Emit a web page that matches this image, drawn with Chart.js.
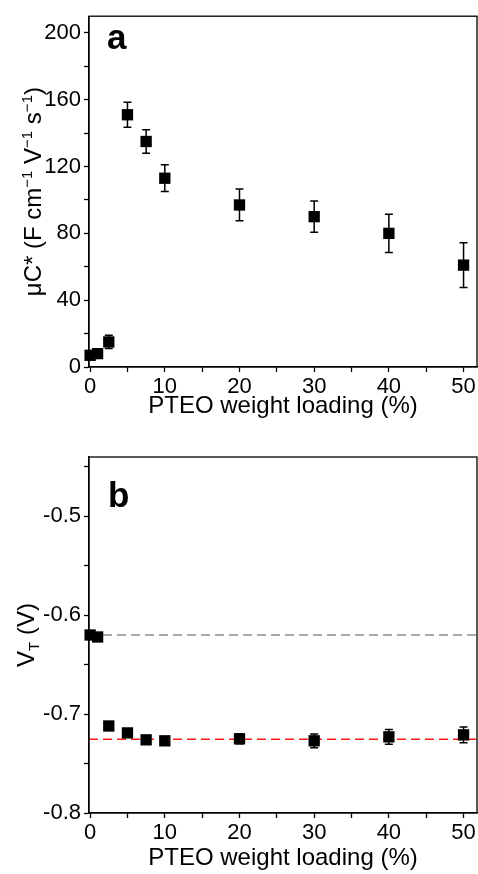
<!DOCTYPE html>
<html>
<head>
<meta charset="utf-8">
<script src="https://cdn.jsdelivr.net/npm/chart.js@4.4.1/dist/chart.umd.min.js"></script>
<style>
html, body { margin: 0; padding: 0; background: #fff; }
#wrap { position: relative; width: 478px; height: 874px; }
#wrap canvas { position: absolute; left: 0; }
</style>
</head>
<body>
<div id="wrap">
  <canvas id="chartA" width="478" height="437" style="top:0"></canvas>
  <canvas id="chartB" width="478" height="437" style="top:437px"></canvas>
</div>
<script>
// PTEO loading (%)
const loading = [0, 1, 2.5, 5, 7.5, 10, 20, 30, 40, 50];

// panel a: mobility-capacitance product
const muC = [7, 8, 15, 151, 135, 113, 97, 90, 80, 61];
const muCErr = [1.5, 1.5, 4, 7.5, 7, 8, 9.5, 9.3, 11.4, 13.4];

// panel b: threshold voltage
const vt = [-0.620, -0.622, -0.712, -0.719, -0.726, -0.727, -0.725, -0.727, -0.723, -0.721];
const vtErr = [0.002, 0.002, 0.004, 0.004, 0.003, 0.003, 0.005, 0.007, 0.0075, 0.008];

// dashed reference levels in panel b
const vtRefGray = -0.620;
const vtRefRed = -0.7255;

const xRange = [-0.15, 51.8];
const yRangeA = [0, 210];
const yRangeB = [-0.8, -0.44];

const FONT = '"Liberation Sans", Arial, Helvetica, sans-serif';

// error bars drawn under the markers
const errorBars = {
    id: 'errorBars',
    beforeDatasetsDraw(chart) {
        const ctx = chart.ctx;
        const yScale = chart.scales.y;
        chart.data.datasets.forEach((ds, i) => {
            if (!ds.errors) return;
            const meta = chart.getDatasetMeta(i);
            meta.data.forEach((pt, j) => {
                const v = ds.data[j].y;
                const e = ds.errors[j];
                const top = yScale.getPixelForValue(v + e);
                const bot = yScale.getPixelForValue(v - e);
                ctx.save();
                ctx.strokeStyle = '#000';
                ctx.lineWidth = 1.5;
                ctx.beginPath();
                ctx.moveTo(pt.x, top); ctx.lineTo(pt.x, bot);
                ctx.moveTo(pt.x - 4, top); ctx.lineTo(pt.x + 4, top);
                ctx.moveTo(pt.x - 4, bot); ctx.lineTo(pt.x + 4, bot);
                ctx.stroke();
                ctx.restore();
            });
        });
    }
};

// box frame, panel letter and rich y title
const decorations = {
    id: 'decorations',
    afterDraw(chart, args, opts) {
        const ctx = chart.ctx;
        const a = chart.chartArea;
        ctx.save();
        ctx.strokeStyle = '#000';
        ctx.lineWidth = 1.3;
        ctx.strokeRect(a.left, a.top, a.right - a.left, a.bottom - a.top);

        ctx.fillStyle = '#000';
        ctx.font = 'bold 35px ' + FONT;
        ctx.textBaseline = 'alphabetic';
        ctx.fillText(opts.letter, opts.letterX, opts.letterY);

        // rotated title made of runs (normal / sup / sub)
        const runs = opts.title;
        let total = 0;
        runs.forEach(r => {
            ctx.font = r.size + 'px ' + FONT;
            r.w = ctx.measureText(r.text).width;
            total += r.w;
        });
        ctx.translate(opts.titleX, (a.top + a.bottom) / 2);
        ctx.rotate(-Math.PI / 2);
        let x = -total / 2;
        runs.forEach(r => {
            ctx.font = r.size + 'px ' + FONT;
            ctx.fillText(r.text, x, r.dy || 0);
            x += r.w;
        });
        ctx.restore();
    }
};

function xAxis(height) {
    return {
        type: 'linear',
        min: xRange[0],
        max: xRange[1],
        afterFit: s => { s.height = height; },
        ticks: {
            stepSize: 5,
            includeBounds: false,
            autoSkip: false,
            maxRotation: 0,
            padding: 2,
            color: '#000',
            font: { family: FONT, size: 22 },
            callback: v => (v % 10 === 0 ? v : '')
        },
        grid: { drawOnChartArea: false, tickLength: 5, color: '#000', tickWidth: 1.3 },
        border: { color: '#000', width: 1.3 },
        title: {
            display: true,
            text: 'PTEO weight loading (%)',
            color: '#000',
            font: { family: FONT, size: 24 },
            padding: { top: 0, bottom: 0 }
        }
    };
}

function yTicks(step, labelFn) {
    return {
        stepSize: step,
        includeBounds: false,
        autoSkip: false,
        padding: 3,
        color: '#000',
        font: { family: FONT, size: 22 },
        callback: labelFn
    };
}

const yGrid = { drawOnChartArea: false, tickLength: 5, color: '#000', tickWidth: 1.3 };

const ptsA = loading.map((x, i) => ({ x: x, y: muC[i] }));
const ptsB = loading.map((x, i) => ({ x: x, y: vt[i] }));

new Chart(document.getElementById('chartA'), {
    type: 'scatter',
    data: {
        datasets: [{
            data: ptsA,
            errors: muCErr,
            pointStyle: 'rect',
            pointRadius: 8,
            backgroundColor: '#000',
            borderColor: '#000',
            borderWidth: 0,
            clip: false
        }]
    },
    options: {
        responsive: false,
        animation: false,
        devicePixelRatio: 1,
        layout: { autoPadding: false, padding: { top: 11, right: 1, bottom: 16, left: 0 } },
        plugins: {
            legend: { display: false },
            tooltip: { enabled: false },
            decorations: {
                letter: 'a', letterX: 107, letterY: 49, titleX: 41,
                title: [
                    { text: 'μC* (F cm', size: 24 },
                    { text: '−1', size: 15, dy: -9 },
                    { text: ' V', size: 24 },
                    { text: '−1', size: 15, dy: -9 },
                    { text: ' s', size: 24 },
                    { text: '−1', size: 15, dy: -9 },
                    { text: ')', size: 24 }
                ]
            }
        },
        scales: {
            x: xAxis(54),
            y: {
                type: 'linear',
                min: yRangeA[0],
                max: yRangeA[1],
                afterFit: s => { s.width = 89; },
                ticks: yTicks(20, v => (v % 40 === 0 ? v : '')),
                grid: yGrid,
                border: { color: '#000', width: 1.3 }
            }
        }
    },
    plugins: [errorBars, decorations]
});

new Chart(document.getElementById('chartB'), {
    type: 'scatter',
    data: {
        datasets: [{
            data: ptsB,
            errors: vtErr,
            pointStyle: 'rect',
            pointRadius: 8,
            backgroundColor: '#000',
            borderColor: '#000',
            borderWidth: 0,
            clip: false
        }, {
            type: 'line',
            data: [{ x: xRange[0], y: vtRefGray }, { x: xRange[1], y: vtRefGray }],
            borderColor: '#8c8c8c',
            borderWidth: 1.5,
            borderDash: [9, 5],
            pointRadius: 0
        }, {
            type: 'line',
            data: [{ x: xRange[0], y: vtRefRed }, { x: xRange[1], y: vtRefRed }],
            borderColor: '#ff1a1a',
            borderWidth: 1.5,
            borderDash: [9, 5],
            pointRadius: 0
        }]
    },
    options: {
        responsive: false,
        animation: false,
        devicePixelRatio: 1,
        layout: { autoPadding: false, padding: { top: 20, right: 1, bottom: 1, left: 0 } },
        plugins: {
            legend: { display: false },
            tooltip: { enabled: false },
            decorations: {
                letter: 'b', letterX: 108, letterY: 70, titleX: 34,
                title: [
                    { text: 'V', size: 24 },
                    { text: 'T', size: 15, dy: 5 },
                    { text: ' (V)', size: 24 }
                ]
            }
        },
        scales: {
            x: xAxis(60),
            y: {
                type: 'linear',
                min: yRangeB[0],
                max: yRangeB[1],
                afterFit: s => { s.width = 89; },
                ticks: yTicks(0.05, v => {
                    const t = v * 10;
                    return Math.abs(t - Math.round(t)) < 1e-6 ? v.toFixed(1) : '';
                }),
                grid: yGrid,
                border: { color: '#000', width: 1.3 }
            }
        }
    },
    plugins: [errorBars, decorations]
});
</script>
</body>
</html>
